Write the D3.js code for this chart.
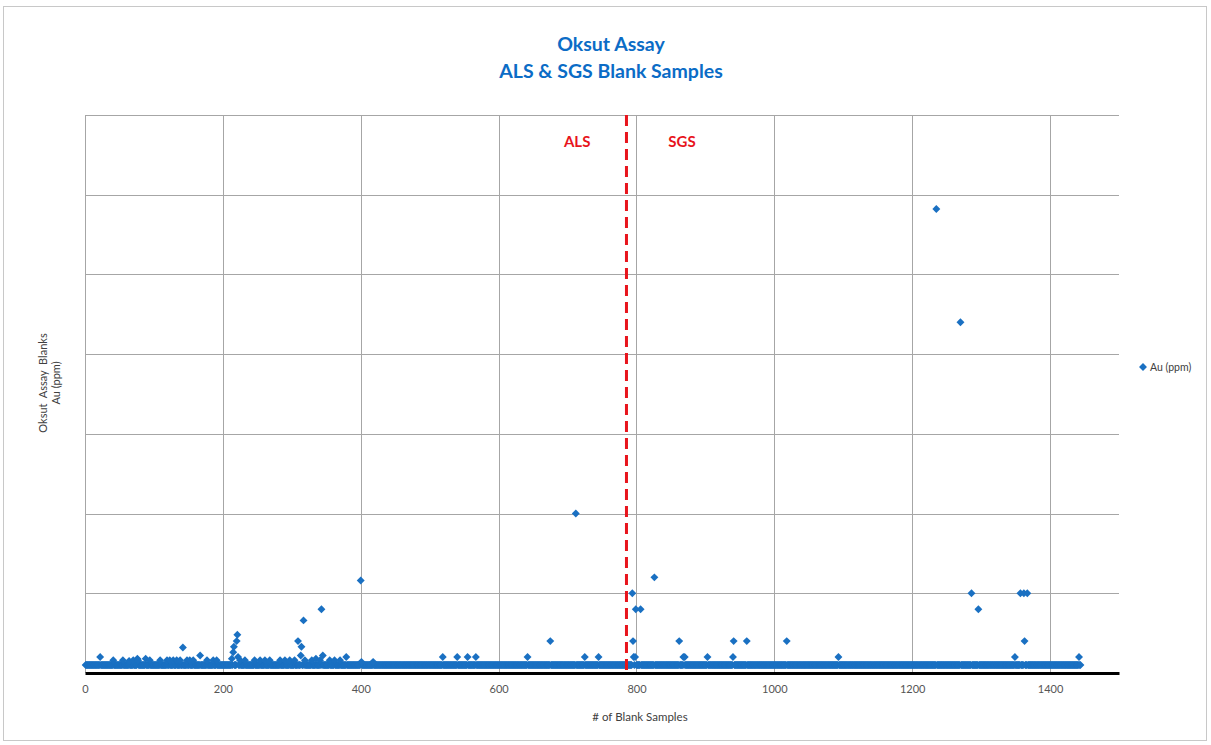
<!DOCTYPE html>
<html>
<head>
<meta charset="utf-8">
<script src="https://cdn.jsdelivr.net/npm/d3@7"></script>
<style>
  body { margin: 0; background: #fff; }
  svg { display: block; font-family: Lato, 'Open Sans', sans-serif; }
</style>
</head>
<body>
<svg id="chart" width="1211" height="745"></svg>
<script>
// detection-limit band: runs of sample numbers all reported at the same value
const baseRuns = [[1, 1444]];
const baseValue = 0.005;

// samples above the detection limit, [sample #, Au ppm]
const alsPoints = [
  [22, 0.01], [41, 0.008], [55, 0.008], [64, 0.0075], [70, 0.008], [76, 0.009], [77, 0.008],
  [88, 0.009], [94, 0.008], [109, 0.008], [119, 0.008], [123, 0.008], [128, 0.008], [133, 0.008],
  [138, 0.008], [142, 0.016], [148, 0.008], [152, 0.008], [157, 0.008], [167, 0.011], [177, 0.008],
  [186, 0.008], [191, 0.008], [213, 0.009], [215, 0.013], [216, 0.0165], [220, 0.02], [221, 0.024],
  [222, 0.01], [225, 0.008], [232, 0.008], [246, 0.008], [254, 0.008], [261, 0.008], [268, 0.008],
  [283, 0.008], [290, 0.008], [297, 0.008], [304, 0.008], [309, 0.02], [313, 0.011], [314, 0.0165],
  [317, 0.033], [319, 0.008], [329, 0.008], [335, 0.009], [341, 0.008], [343, 0.04], [345, 0.011],
  [355, 0.008], [362, 0.008], [370, 0.008], [379, 0.01], [400, 0.058], [401, 0.007], [418, 0.007],
  [519, 0.01], [540, 0.01], [555, 0.01], [567, 0.01], [642, 0.01], [675, 0.02], [712, 0.1],
  [725, 0.01], [745, 0.01]
];
const sgsPoints = [
  [794, 0.05], [795, 0.02], [796, 0.01], [798, 0.01], [799, 0.04], [806, 0.04], [826, 0.06],
  [862, 0.02], [868, 0.01], [870, 0.01], [903, 0.01], [940, 0.01], [941, 0.02], [960, 0.02],
  [1018, 0.02], [1093, 0.01], [1235, 0.291], [1270, 0.22], [1286, 0.05], [1296, 0.04],
  [1349, 0.01], [1357, 0.05], [1362, 0.05], [1363, 0.02], [1367, 0.05], [1442, 0.01]
];

const labSplit = 785.5;
const xTicks = [0, 200, 400, 600, 800, 1000, 1200, 1400];
const yTicks = [0, 0.05, 0.1, 0.15, 0.2, 0.25, 0.3, 0.35];

const margin = { left: 85, right: 92, top: 115, bottom: 72 };
const W = 1211, H = 745;

const x = d3.scaleLinear().domain([0, 1500]).range([margin.left, W - margin.right]);
const y = d3.scaleLinear().domain([0, 0.35]).range([H - margin.bottom, margin.top]);

const svg = d3.select('#chart');

// outer chart border
svg.append('rect')
    .attr('x', 3.5).attr('y', 6.5)
    .attr('width', W - 8).attr('height', H - 11)
    .attr('fill', 'none')
    .attr('stroke', '#c8c8c8');

// gridlines
svg.append('g').selectAll('line')
    .data(yTicks.slice(1))
    .join('line')
    .attr('x1', x(0)).attr('x2', x(1500))
    .attr('y1', (d) => Math.round(y(d)) + 0.5)
    .attr('y2', (d) => Math.round(y(d)) + 0.5)
    .attr('stroke', '#a6a6a6');

svg.append('g').selectAll('line')
    .data(xTicks)
    .join('line')
    .attr('x1', (d) => Math.round(x(d)) + 0.5)
    .attr('x2', (d) => Math.round(x(d)) + 0.5)
    .attr('y1', y(0.35)).attr('y2', y(0))
    .attr('stroke', '#a6a6a6');

// x axis
const xAxis = svg.append('g')
    .attr('transform', `translate(0,${y(0)})`)
    .call(d3.axisBottom(x).tickValues(xTicks).tickFormat(d3.format('d')).tickSize(0).tickPadding(12));
xAxis.select('.domain').attr('stroke', '#000').attr('stroke-width', 3);
xAxis.selectAll('text')
    .attr('font-size', 11)
    .attr('font-family', 'Lato, sans-serif')
    .attr('fill', '#555');

// build point list
const excluded = new Set(alsPoints.concat(sgsPoints).map((d) => d[0]));
const points = [];
baseRuns.forEach(([a, b]) => {
    for (let n = a; n <= b; n++) {
        if (!excluded.has(n)) points.push([n, baseValue]);
    }
});
alsPoints.forEach((d) => points.push(d));
sgsPoints.forEach((d) => points.push(d));

const diamond = d3.symbol().type(d3.symbolDiamond2).size(40);

svg.append('g').selectAll('path')
    .data(points)
    .join('path')
    .attr('d', diamond)
    .attr('transform', (d) => `translate(${x(d[0])},${y(d[1])})`)
    .attr('fill', '#1a70c2');

// lab split line
svg.append('line')
    .attr('x1', x(labSplit)).attr('x2', x(labSplit))
    .attr('y1', y(0.35)).attr('y2', y(0))
    .attr('stroke', '#e8141c')
    .attr('stroke-width', 3)
    .attr('stroke-dasharray', '11,6');

svg.append('text')
    .attr('x', x(714)).attr('y', 147)
    .attr('text-anchor', 'middle')
    .attr('font-size', 15).attr('font-weight', 'bold')
    .attr('fill', '#e8141c')
    .text('ALS');
svg.append('text')
    .attr('x', x(866)).attr('y', 147)
    .attr('text-anchor', 'middle')
    .attr('font-size', 15).attr('font-weight', 'bold')
    .attr('fill', '#e8141c')
    .text('SGS');

// titles
svg.append('text')
    .attr('x', 611).attr('y', 51)
    .attr('text-anchor', 'middle')
    .attr('font-size', 19.5).attr('font-weight', 'bold')
    .attr('fill', '#0b6cc6')
    .text('Oksut Assay');
svg.append('text')
    .attr('x', 611).attr('y', 78)
    .attr('text-anchor', 'middle')
    .attr('font-size', 19.5).attr('font-weight', 'bold')
    .attr('fill', '#0b6cc6')
    .text('ALS & SGS Blank Samples');

svg.append('text')
    .attr('x', 640).attr('y', 721)
    .attr('text-anchor', 'middle')
    .attr('font-size', 11.5).attr('fill', '#404040')
    .text('# of Blank Samples');

const yTitle = svg.append('text')
    .attr('transform', 'translate(0,383) rotate(-90)')
    .attr('text-anchor', 'middle')
    .attr('font-size', 11).attr('fill', '#404040');
yTitle.append('tspan').attr('x', 0).attr('y', 47).attr('xml:space', 'preserve').text('Oksut  Assay  Blanks');
yTitle.append('tspan').attr('x', 0).attr('y', 60).text('Au (ppm)');

// legend
const legend = svg.append('g').attr('transform', 'translate(1143,367)');
legend.append('path').attr('d', diamond).attr('fill', '#1a70c2');
legend.append('text')
    .attr('x', 7).attr('y', 4)
    .attr('font-size', 10.5).attr('fill', '#404040')
    .text('Au (ppm)');
</script>
</body>
</html>
